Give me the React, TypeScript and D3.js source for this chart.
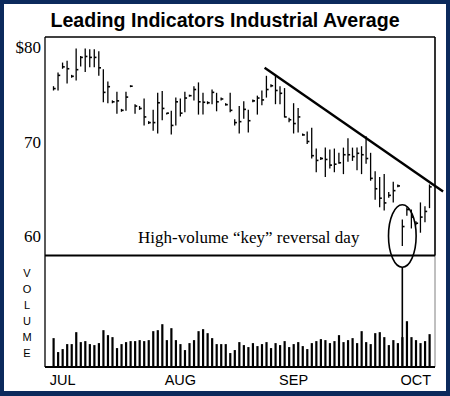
import * as d3 from "d3";

// daily bars, July through early October (index = trading day)
const highs = [
	75.8, 77.25, 78.3, 78.5, 77.0, 79.8, 79.0, 79.8, 79.7, 79.7, 79.5, 77.6, 76.3, 74.3, 75.2, 73.4, 75.2, 75.9, 73.9, 73.7,
	74.5, 72.1, 73.3, 75.1, 75.3, 73.0, 73.2, 74.6, 74.5, 75.2, 74.9, 75.8, 76.2, 75.1, 74.2, 75.45, 75.1, 74.6, 74.0, 75.1,
	72.3, 73.7, 74.2, 73.3, 74.4, 74.8, 75.35, 76.9, 76.0, 77.0, 75.8, 75.6, 72.45, 74.0, 73.5, 70.8, 71.0, 71.4, 69.2, 68.3,
	69.3, 69.1, 69.2, 68.75, 69.3, 70.3, 69.3, 69.3, 69.45, 70.5, 68.75, 66.8, 66.2, 66.5, 64.6, 65.7, 65.4, 61.7, 63.0, 62.75,
	61.5, 63.5, 63.1, 65.4,
];
const lows = [
	75.45, 75.45, 77.75, 76.2, 76.8, 76.5, 78.0, 77.4, 77.9, 77.9, 77.0, 74.2, 74.1, 74.1, 73.0, 73.2, 73.3, 75.8, 73.0, 73.4,
	71.75, 71.9, 71.2, 70.9, 72.3, 72.9, 70.8, 71.75, 72.7, 73.15, 74.8, 74.4, 72.9, 72.9, 74.0, 74.0, 73.25, 74.4, 73.85, 73.15,
	71.75, 70.9, 72.45, 71.0, 74.2, 72.9, 73.9, 74.7, 75.8, 74.0, 74.0, 72.6, 72.1, 70.9, 71.0, 70.65, 69.8, 68.25, 66.8, 68.1,
	66.3, 67.2, 66.8, 67.7, 66.6, 67.9, 68.0, 67.0, 66.6, 67.7, 65.9, 63.9, 63.1, 62.75, 64.1, 63.6, 65.2, 59.0, 62.2, 60.85,
	61.2, 60.4, 61.5, 63.0,
];
const closes = [
	75.6, 77.0, 77.9, 77.7, 76.9, 77.6, 78.9, 79.0, 78.9, 78.9, 77.8, 75.2, 75.8, 74.2, 74.3, 73.3, 74.7, 75.85, 73.75, 73.5,
	72.6, 72.0, 72.0, 74.1, 73.5, 73.0, 71.7, 74.2, 73.0, 74.6, 74.85, 75.5, 74.2, 74.15, 74.1, 75.2, 74.2, 74.5, 73.9, 73.3,
	72.0, 72.1, 73.4, 72.2, 74.3, 74.6, 74.4, 75.5, 75.9, 75.4, 75.1, 72.6, 72.3, 71.9, 72.6, 70.7, 70.0, 68.5, 68.0, 68.2,
	68.1, 67.5, 67.6, 67.75, 68.6, 68.6, 68.4, 68.75, 68.6, 68.2, 66.1, 65.0, 64.0, 63.5, 64.3, 64.8, 65.3, 61.0, 62.8, 62.0,
	61.35, 62.0, 62.6, 65.2,
];
const volumes = [
	29, 15, 18, 23, 23, 35, 25, 26, 23, 22, 24, 37, 32, 30, 19, 23, 25, 26, 26, 27,
	26, 27, 36, 37, 43, 27, 39, 27, 23, 17, 24, 27, 36, 38, 34, 29, 23, 23, 23, 14,
	17, 25, 22, 20, 24, 21, 23, 25, 19, 24, 22, 26, 20, 23, 25, 21, 18, 24, 26, 28,
	27, 24, 26, 32, 25, 27, 29, 24, 36, 25, 23, 34, 35, 30, 22, 27, 24, 30, 46, 30,
	27, 24, 26, 33,
];

const priceTicks = [80, 70, 60];
const priceTickLabels = ["$80", "70", "60"];
const monthLabels = ["JUL", "AUG", "SEP", "OCT"];
const monthDays = [2, 28, 53, 80];

// downtrend line: [day, price]
const trendLine = [
	[46.6, 77.8],
	[86, 64.7],
];
const keyDay = 77;
const keyPriceRange = [56.7, 63.3];
const keyDayRange = [74, 80.1];

const W = 450;
const H = 396;

export default function App() {
	const left = 45;
	const right = 435;
	const top = 37;
	const priceBottom = 255.5;
	const volBottom = 367;

	const x = d3.scaleLinear().domain([0, highs.length - 1]).range([53.5, 429.5]);
	const y = d3.scaleLinear().domain([60, 80]).range([236, 47]);
	const yv = d3.scaleLinear().domain([0, 112]).range([volBottom, priceBottom]);

	const line = d3.line<number[]>().x((d) => x(d[0])).y((d) => y(d[1]));

	const ellCx = x(keyDay);
	const ellCy = (y(keyPriceRange[0]) + y(keyPriceRange[1])) / 2;
	const ellRy = (y(keyPriceRange[0]) - y(keyPriceRange[1])) / 2;
	const ellRx = (x(keyDayRange[1]) - x(keyDayRange[0])) / 2;

	const serif = "'Liberation Serif', 'Times New Roman', serif";
	const sans = "'Liberation Sans', Arial, sans-serif";

	return (
		<>
			<style>{`body{margin:0}`}</style>
			<svg width={W} height={H} style={{ display: "block" }}>
				<rect x={0} y={0} width={W} height={H} fill="#0c2a5c" />
				<rect x={4} y={4} width={W - 8} height={H - 9} fill="#fff" />

				<text x={225} y={27} textAnchor="middle" fontFamily={sans} fontWeight="bold" fontSize={19.6}>
					Leading Indicators Industrial Average
				</text>

				{/* frame */}
				<line x1={left} x2={right} y1={top} y2={top} stroke="#000" strokeWidth={1.6} />
				<line x1={left} x2={left} y1={top} y2={volBottom} stroke="#000" strokeWidth={1.3} />
				<line x1={right} x2={right} y1={top} y2={priceBottom} stroke="#000" strokeWidth={1.6} />
				<line x1={right} x2={right} y1={priceBottom} y2={volBottom} stroke="#000" strokeWidth={1} strokeDasharray="1,1" />
				<line x1={left} x2={right} y1={priceBottom} y2={priceBottom} stroke="#000" strokeWidth={1.8} />
				<line x1={left} x2={right} y1={volBottom} y2={volBottom} stroke="#000" strokeWidth={2.2} />

				{priceTicks.map((t, i) => (
					<text key={t} x={41} y={y(t) + 6} textAnchor="end" fontFamily={serif} fontSize={17}>
						{priceTickLabels[i]}
					</text>
				))}

				{/* price bars */}
				{highs.map((h, i) => (
					<g key={i} stroke="#000">
						<line x1={x(i)} x2={x(i)} y1={y(h) - 0.5} y2={y(lows[i]) + 0.5} strokeWidth={1.3} />
						<line x1={x(i)} x2={x(i) + 2.2} y1={y(closes[i])} y2={y(closes[i])} strokeWidth={1.6} />
					</g>
				))}

				<path d={line(trendLine) ?? ""} fill="none" stroke="#000" strokeWidth={2.4} />

				{/* volume */}
				{volumes.map((v, i) => (
					<rect key={i} x={x(i) - 1} y={yv(v)} width={2.2} height={volBottom - yv(v)} fill="#000" />
				))}

				{/* annotation */}
				<text x={138} y={243} fontFamily={serif} fontSize={17}>
					High-volume “key” reversal day
				</text>
				<ellipse cx={ellCx} cy={ellCy} rx={ellRx} ry={ellRy} fill="none" stroke="#000" strokeWidth={1.6} />
				<line x1={ellCx} x2={ellCx} y1={ellCy + ellRy} y2={volBottom} stroke="#000" strokeWidth={1.6} />

				{"VOLUME".split("").map((c, i) => (
					<text key={i} x={27} y={277 + i * 16} textAnchor="middle" fontFamily={sans} fontSize={11}>
						{c}
					</text>
				))}

				{monthLabels.map((m, i) => (
					<text key={m} x={x(monthDays[i])} y={385} textAnchor="middle" fontFamily={sans} fontSize={14.5}>
						{m}
					</text>
				))}
			</svg>
		</>
	);
}
